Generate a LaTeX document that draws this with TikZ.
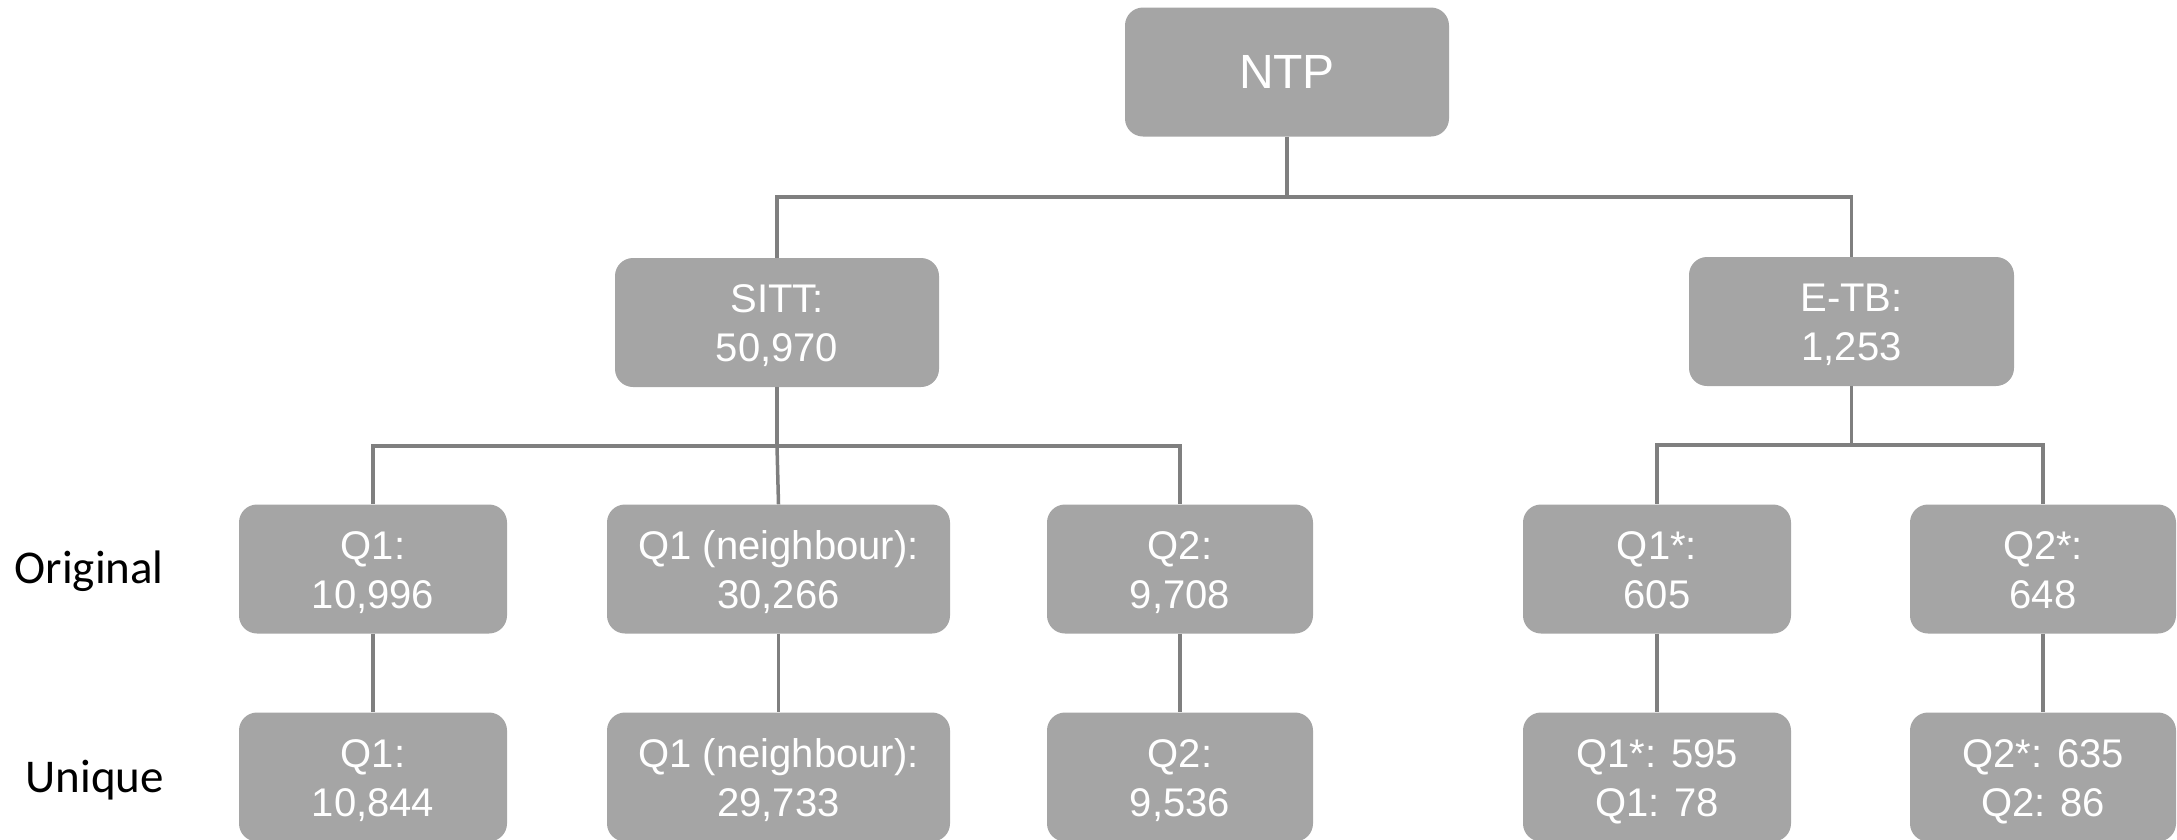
\documentclass[tikz,border=0pt]{standalone}
\usepackage{fontspec}
\setmainfont{Liberation Sans}
\newfontfamily\labelfont{Carlito}
\begin{document}
\begin{tikzpicture}[x=1pt,y=-1pt,
  shell/.style={rectangle, rounded corners=18pt, fill=boxgray, draw=none,
    text=white, align=center, inner sep=0pt, minimum height=129pt},
  rootbox/.style={shell, font=\fontsize{48}{56}\selectfont},
  box/.style={shell, font=\fontsize{40}{49}\selectfont,
    text height=86pt, text depth=8pt},
  link/.style={draw=linegray, line width=3.5pt},
  rowlabel/.style={anchor=base east, inner sep=0pt, text=black,
    font=\labelfont\fontsize{47}{56}\selectfont}]
\definecolor{boxgray}{HTML}{A5A5A5}
\definecolor{linegray}{HTML}{7F7F7F}
\useasboundingbox (0,0) rectangle (2177,839);

% root
\node[rootbox, minimum width=324pt] (ntp) at (1287,72) {NTP};

% second level
\node[box, minimum width=324pt] (sitt) at (777,322.5) {SITT:\\50,970};
\node[box, minimum width=325pt] (etb) at (1851.5,321.5) {E-TB:\\1,253};

% original counts
\node[box, minimum width=268pt] (o1) at (373,569) {Q1:\\10,996};
\node[box, minimum width=343pt] (o2) at (778.5,569) {Q1 (neighbour):\\30,266};
\node[box, minimum width=266pt] (o3) at (1180,569) {Q2:\\9,708};
\node[box, minimum width=268pt] (o4) at (1657,569) {Q1*:\\605};
\node[box, minimum width=266pt] (o5) at (2043,569) {Q2*:\\648};

% unique counts
\node[box, minimum width=268pt] (u1) at (373,777) {Q1:\\10,844};
\node[box, minimum width=343pt] (u2) at (778.5,777) {Q1 (neighbour):\\29,733};
\node[box, minimum width=266pt] (u3) at (1180,777) {Q2:\\9,536};
\node[box, minimum width=268pt] (u4) at (1657,777) {Q1*: 595\\Q1: 78};
\node[box, minimum width=266pt] (u5) at (2043,777) {Q2*: 635\\Q2: 86};

% row labels
\node[rowlabel] (lorig) at (164,583) {Original};
\node[rowlabel] (luniq) at (164,792) {Unique};

% bus levels
\coordinate (busA) at (0,197);
\coordinate (busB) at (0,446);
\coordinate (busC) at (0,445);

% connectors
\draw[link] (ntp.south) -- (ntp.south |- busA) -| (sitt.north);
\draw[link] (ntp.south |- busA) -| (etb.north);

\draw[link] (sitt.south) -- (sitt.south |- busB) -| (o1.north);
\draw[link] (sitt.south |- busB) -| (o3.north);
\draw[link] (sitt.south |- busB) -- (o2.north);

\draw[link] (etb.south) -- (etb.south |- busC) -| (o4.north);
\draw[link] (etb.south |- busC) -| (o5.north);

\draw[link] (o1.south) -- (u1.north);
\draw[link] (o2.south) -- (u2.north);
\draw[link] (o3.south) -- (u3.north);
\draw[link] (o4.south) -- (u4.north);
\draw[link] (o5.south) -- (u5.north);
\end{tikzpicture}
\end{document}
